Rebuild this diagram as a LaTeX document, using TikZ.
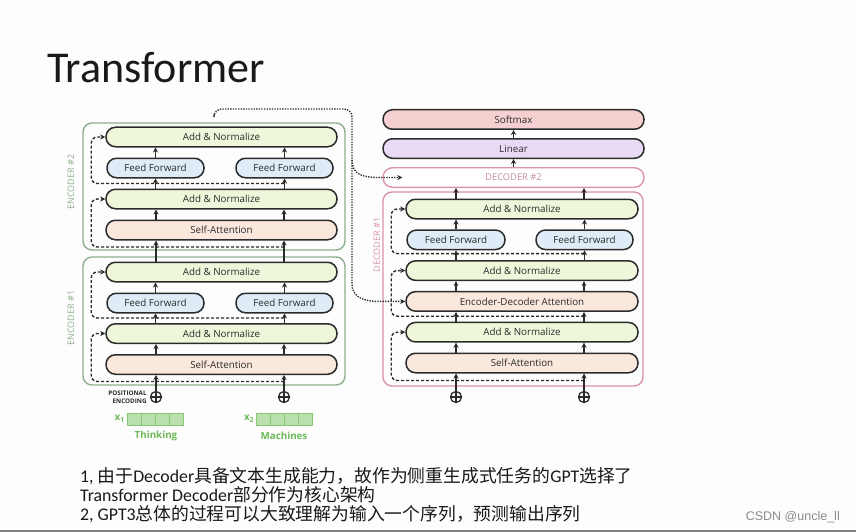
\documentclass[tikz,border=0pt]{standalone}
\usepackage{fontspec}
\setmainfont{Open Sans}
\newfontfamily\titlefont{Carlito}
\newfontfamily\cjk{Noto Sans CJK SC}
\newfontfamily\markfont{Liberation Sans}
\usetikzlibrary{arrows.meta,positioning,calc}

\definecolor{page}{HTML}{FDFDFD}
\definecolor{ink}{HTML}{2B2B2B}
\definecolor{addgreen}{HTML}{EEF7D9}
\definecolor{ffblue}{HTML}{DFECF8}
\definecolor{attpeach}{HTML}{FBE8DD}
\definecolor{softpink}{HTML}{F6D0D0}
\definecolor{linpurple}{HTML}{E9DBF5}
\definecolor{encframe}{HTML}{8FAE8F}
\definecolor{decframe}{HTML}{DC93AE}
\definecolor{declabel}{HTML}{C38B9E}
\definecolor{cellfill}{HTML}{B9E0AC}
\definecolor{cellline}{HTML}{86C676}
\definecolor{wordgreen}{HTML}{6DBA58}

\newcommand{\zh}[1]{{\cjk #1}}

\tikzset{
	layer/.style={draw=ink, line width=1.5pt, rounded corners=9.5pt, minimum height=19.5pt, inner sep=0pt, text=ink, font=\fontsize{9.8}{11}\selectfont},
	addnorm/.style={layer, fill=addgreen, minimum width=231pt},
	attn/.style={layer, fill=attpeach, minimum width=231pt},
	ffwd/.style={layer, fill=ffblue, minimum width=97pt},
	headbox/.style={layer, minimum width=261pt},
	encbox/.style={draw=encframe, line width=1.4pt, rounded corners=9pt, minimum width=262pt, inner sep=0pt},
	decbox/.style={draw=decframe, line width=1.4pt, rounded corners=9pt, inner sep=0pt},
	sidelabel/.style={rotate=90, font=\fontsize{9}{10}\selectfont},
	flow/.style={draw=ink, line width=1.4pt, -{Stealth[length=5pt,width=5pt]}},
	resid/.style={flow, dash pattern=on 3pt off 2pt, rounded corners=6pt},
	link/.style={draw=ink, line width=1.4pt, dash pattern=on 1.3pt off 1.3pt},
	plus/.style={circle, draw=ink, line width=1.3pt, minimum size=11pt, inner sep=0pt,
		path picture={\draw[ink, line width=1.3pt] (path picture bounding box.north) -- (path picture bounding box.south) (path picture bounding box.west) -- (path picture bounding box.east);}},
	cell/.style={draw=cellline, fill=cellfill, line width=0.8pt, minimum width=14pt, minimum height=12pt, inner sep=0pt},
	word/.style={text=wordgreen, font=\fontsize{9.8}{11}\selectfont\bfseries},
	note/.style={anchor=base west, inner sep=0pt, text=black!90, font=\titlefont\fontsize{17.8}{19}\selectfont}
}

\begin{document}
\begin{tikzpicture}[x=1pt, y=-1pt]
	\useasboundingbox (0,0) rectangle (856,532);
	\fill[page] (0,0) rectangle (856,532);
	\draw[line width=2pt, black!50] (0,531) -- (856,531);

	\node[anchor=base west, inner sep=0pt, text=black!90, font=\titlefont\fontsize{44}{48}\selectfont] (title) at (47,83) {Transformer};

	% encoder stack
	\node[encbox, minimum height=127pt] (enc2) at (214,186.5) {};
	\node[encbox, minimum height=128pt] (enc1) at (214,321) {};
	\node[sidelabel, text=encframe] (enc2lab) at (71,182) {ENCODER \#2};
	\node[sidelabel, text=encframe] (enc1lab) at (71,318) {ENCODER \#1};

	\node[addnorm] (e2an2) at (221.5,137) {Add \& Normalize};
	\node[ffwd] (e2ffL) at (155.5,168) {Feed Forward};
	\node[ffwd] (e2ffR) at (284.5,168) {Feed Forward};
	\node[addnorm] (e2an1) at (221.5,199) {Add \& Normalize};
	\node[attn] (e2sa) at (221.5,230) {Self-Attention};

	\node[addnorm] (e1an2) at (221.5,272) {Add \& Normalize};
	\node[ffwd] (e1ffL) at (155.5,303) {Feed Forward};
	\node[ffwd] (e1ffR) at (284.5,303) {Feed Forward};
	\node[addnorm] (e1an1) at (221.5,333.5) {Add \& Normalize};
	\node[attn] (e1sa) at (221.5,364.5) {Self-Attention};

	\node[plus] (pe1) at (156,397) {};
	\node[plus] (pe2) at (284,397) {};
	\node[left=3pt of pe1, align=right, inner sep=0pt, text=ink, font=\fontsize{6.3}{7.5}\selectfont\bfseries] (posenc) {POSITIONAL\\ENCODING};

	\foreach \i in {0,...,3}{
		\node[cell] (xa\i) at (134.3+14*\i,419) {};
		\node[cell] (xb\i) at (263.7+14*\i,419) {};
	}
	\node[word, left=2pt of xa0, inner sep=0pt] (xalab) {x\textsubscript{1}};
	\node[word, left=2pt of xb0, inner sep=0pt] (xblab) {x\textsubscript{2}};
	\node[word] (think) at (156,436) {Thinking};
	\node[word] (mach) at (284,436) {Machines};

	\foreach \p in {pe1,pe2}{
		\draw[flow] (\p) -- (e1sa.south -| \p);
		\draw[flow] (e1sa.north -| \p) -- (e1an1.south -| \p);
		\draw[flow] (e1an2.north -| \p) -- (e2sa.south -| \p);
		\draw[flow] (e2sa.north -| \p) -- (e2an1.south -| \p);
	}
	\foreach \f/\a/\b in {e1ffL/e1an1/e1an2, e1ffR/e1an1/e1an2, e2ffL/e2an1/e2an2, e2ffR/e2an1/e2an2}{
		\draw[flow] (\a.north -| \f) -- (\f.south);
		\draw[flow] (\f.north) -- (\b.south -| \f);
	}
	\draw[resid] ([yshift=-6.5pt]e1sa.south -| pe2) -| ([xshift=-14pt]e1an1.west) -- (e1an1.west);
	\draw[resid] ([yshift=5pt]e1an1.north -| pe2) -| ([xshift=-14pt]e1an2.west) -- (e1an2.west);
	\draw[resid] ([yshift=-6.5pt]e2sa.south -| pe2) -| ([xshift=-14pt]e2an1.west) -- (e2an1.west);
	\draw[resid] ([yshift=5pt]e2an1.north -| pe2) -| ([xshift=-14pt]e2an2.west) -- (e2an2.west);

	% decoder stack
	\node[headbox, fill=softpink] (softmax) at (513.5,119.5) {Softmax};
	\node[headbox, fill=linpurple] (linear) at (513.5,148.5) {Linear};
	\node[decbox, fill=white, rounded corners=9.5pt, minimum width=261pt, minimum height=19.5pt, text=declabel, font=\fontsize{9.3}{11}\selectfont] (dec2) at (513.5,177.5) {DECODER \#2};
	\node[decbox, minimum width=260pt, minimum height=194pt] (dec1) at (513,289) {};
	\node[sidelabel, text=decframe] (dec1lab) at (377,245) {DECODER \#1};

	\node[addnorm, minimum width=232pt] (dan3) at (522,209) {Add \& Normalize};
	\node[ffwd, minimum width=98pt] (dffL) at (456,239.8) {Feed Forward};
	\node[ffwd, minimum width=97pt] (dffR) at (584.5,239.8) {Feed Forward};
	\node[addnorm, minimum width=232pt] (dan2) at (522,270.6) {Add \& Normalize};
	\node[attn, minimum width=232pt] (deda) at (522,301.4) {Encoder-Decoder Attention};
	\node[addnorm, minimum width=232pt] (dan1) at (522,332.2) {Add \& Normalize};
	\node[attn, minimum width=232pt] (dsa) at (522,363) {Self-Attention};

	\node[plus] (pd1) at (456,397) {};
	\node[plus] (pd2) at (584,397) {};

	\foreach \p in {pd1,pd2}{
		\draw[flow] (\p) -- (dsa.south -| \p);
		\draw[flow] (dsa.north -| \p) -- (dan1.south -| \p);
		\draw[flow] (dan1.north -| \p) -- (deda.south -| \p);
		\draw[flow] (deda.north -| \p) -- (dan2.south -| \p);
		\draw[flow] (dan3.north -| \p) -- (dec2.south -| \p);
	}
	\foreach \f in {dffL,dffR}{
		\draw[flow] (dan2.north -| \f) -- (\f.south);
		\draw[flow] (\f.north) -- (dan3.south -| \f);
	}
	\draw[flow] (dec2.north) -- (linear.south);
	\draw[flow] (linear.north) -- (softmax.south);
	\draw[resid] ([yshift=-7pt]dsa.south -| pd2) -| ([xshift=-14pt]dan1.west) -- (dan1.west);
	\draw[resid] ([yshift=5.5pt]dan1.north -| pd2) -| ([xshift=-14pt]dan2.west) -- (dan2.west);
	\draw[resid] ([yshift=6.5pt]dan2.north -| pd2) -| ([xshift=-14pt]dan3.west) -- (dan3.west);

	% encoder output to decoders
	\coordinate (over) at (352,109);
	\coordinate (split) at (352,160);
	\draw[link, rounded corners=8pt] ([yshift=8pt]enc2.north) |- (over) -- (split);
	\draw[link, -{Stealth[length=5pt,width=5pt]}] (split) .. controls (352,174) and (362,177.5) .. (378,177.5) -- ([xshift=20pt]dec2.west);
	\draw[link, -{Stealth[length=5pt,width=5pt]}] (split) -- (352,284) .. controls (352,296) and (362,301.4) .. (378,301.4) -- (deda.west);

	% notes
	\node[note] (note1) at (80,482.5) {1, \zh{由于}Decoder\zh{具备文本生成能力，故作为侧重生成式任务的}GPT\zh{选择了}};
	\node[note] (note2) at (80,501.5) {Transformer Decoder\zh{部分作为核心架构}};
	\node[note] (note3) at (80,520.5) {2, GPT3\zh{总体的过程可以大致理解为输入一个序列，预测输出序列}};
	\node[anchor=base east, inner sep=0pt, text=black!45, font=\markfont\fontsize{12.5}{14}\selectfont] (mark) at (840,520) {CSDN @uncle\_ll};
\end{tikzpicture}
\end{document}
